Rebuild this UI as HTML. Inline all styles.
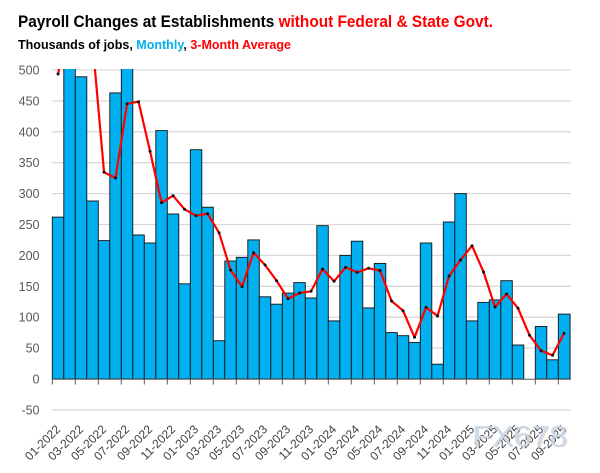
<!DOCTYPE html>
<html>
<head>
<meta charset="utf-8">
<style>
  html,body{margin:0;padding:0;background:#fff;}
  svg{display:block;}
  text{font-family:"Liberation Sans",Arial,sans-serif;}
</style>
</head>
<body>
<svg width="600" height="473" viewBox="0 0 600 473" xmlns="http://www.w3.org/2000/svg">
  <rect x="0" y="0" width="600" height="473" fill="#ffffff"/>
  <defs>
    <clipPath id="plot"><rect x="50" y="69" width="523" height="350"/></clipPath>
  </defs>

  <!-- Titles -->
  <text x="18" y="27" font-size="17" font-weight="bold" textLength="475" lengthAdjust="spacingAndGlyphs"><tspan fill="#000">Payroll Changes at Establishments </tspan><tspan fill="#ff0000">without Federal &amp; State Govt.</tspan></text>
  <text x="18" y="49" font-size="13" font-weight="bold" textLength="273" lengthAdjust="spacingAndGlyphs"><tspan fill="#000">Thousands of jobs, </tspan><tspan fill="#00b0f0">Monthly</tspan><tspan fill="#000">, </tspan><tspan fill="#ff0000">3-Month Average</tspan></text>

  <!-- Gridlines -->
  <g stroke="#d9d9d9" stroke-width="1.3">
    <line x1="52" y1="70" x2="571" y2="70"/>
    <line x1="52" y1="100.9" x2="571" y2="100.9"/>
    <line x1="52" y1="131.8" x2="571" y2="131.8"/>
    <line x1="52" y1="162.7" x2="571" y2="162.7"/>
    <line x1="52" y1="193.6" x2="571" y2="193.6"/>
    <line x1="52" y1="224.5" x2="571" y2="224.5"/>
    <line x1="52" y1="255.4" x2="571" y2="255.4"/>
    <line x1="52" y1="286.3" x2="571" y2="286.3"/>
    <line x1="52" y1="317.2" x2="571" y2="317.2"/>
    <line x1="52" y1="348.1" x2="571" y2="348.1"/>
    <line x1="52" y1="409.9" x2="571" y2="409.9"/>
  </g>

  <!-- Y labels -->
  <g font-size="12.5" fill="#595959" text-anchor="end">
    <text x="39.5" y="74.5">500</text>
    <text x="39.5" y="105.4">450</text>
    <text x="39.5" y="136.3">400</text>
    <text x="39.5" y="167.2">350</text>
    <text x="39.5" y="198.1">300</text>
    <text x="39.5" y="229">250</text>
    <text x="39.5" y="259.9">200</text>
    <text x="39.5" y="290.8">150</text>
    <text x="39.5" y="321.7">100</text>
    <text x="39.5" y="352.6">50</text>
    <text x="39.5" y="383.5">0</text>
    <text x="39.5" y="414.4">-50</text>
  </g>

  <!-- Bars -->
  <g clip-path="url(#plot)" fill="#00b0f0" stroke="#111" stroke-width="0.9">
    <rect x="52.3" y="217.1" width="11.5" height="161.9"/>
    <rect x="63.8" y="65" width="11.5" height="314"/>
    <rect x="75.3" y="76.8" width="11.5" height="302.2"/>
    <rect x="86.8" y="201.0" width="11.5" height="178.0"/>
    <rect x="98.3" y="240.6" width="11.5" height="138.4"/>
    <rect x="109.8" y="92.9" width="11.5" height="286.1"/>
    <rect x="121.3" y="65" width="11.5" height="314"/>
    <rect x="132.8" y="235.0" width="11.5" height="144.0"/>
    <rect x="144.3" y="243.0" width="11.5" height="136.0"/>
    <rect x="155.8" y="130.6" width="11.5" height="248.4"/>
    <rect x="167.3" y="214.0" width="11.5" height="165.0"/>
    <rect x="178.8" y="283.8" width="11.5" height="95.2"/>
    <rect x="190.3" y="149.7" width="11.5" height="229.3"/>
    <rect x="201.8" y="207.2" width="11.5" height="171.8"/>
    <rect x="213.3" y="340.7" width="11.5" height="38.3"/>
    <rect x="224.8" y="261.0" width="11.5" height="118.0"/>
    <rect x="236.3" y="257.3" width="11.5" height="121.7"/>
    <rect x="247.8" y="239.9" width="11.5" height="139.1"/>
    <rect x="259.3" y="296.8" width="11.5" height="82.2"/>
    <rect x="270.8" y="304.2" width="11.5" height="74.8"/>
    <rect x="282.3" y="293.1" width="11.5" height="85.9"/>
    <rect x="293.8" y="282.6" width="11.5" height="96.4"/>
    <rect x="305.3" y="298.0" width="11.5" height="81.0"/>
    <rect x="316.8" y="225.7" width="11.5" height="153.3"/>
    <rect x="328.3" y="320.9" width="11.5" height="58.1"/>
    <rect x="339.8" y="255.4" width="11.5" height="123.6"/>
    <rect x="351.3" y="241.2" width="11.5" height="137.8"/>
    <rect x="362.8" y="307.9" width="11.5" height="71.1"/>
    <rect x="374.3" y="263.4" width="11.5" height="115.6"/>
    <rect x="385.8" y="332.6" width="11.5" height="46.4"/>
    <rect x="397.3" y="335.7" width="11.5" height="43.3"/>
    <rect x="408.8" y="342.5" width="11.5" height="36.5"/>
    <rect x="420.3" y="243.0" width="11.5" height="136.0"/>
    <rect x="431.8" y="364.2" width="11.5" height="14.8"/>
    <rect x="443.3" y="222.0" width="11.5" height="157.0"/>
    <rect x="454.8" y="193.6" width="11.5" height="185.4"/>
    <rect x="466.3" y="320.9" width="11.5" height="58.1"/>
    <rect x="477.8" y="302.4" width="11.5" height="76.6"/>
    <rect x="489.3" y="299.9" width="11.5" height="79.1"/>
    <rect x="500.8" y="280.7" width="11.5" height="98.3"/>
    <rect x="512.3" y="345.0" width="11.5" height="34.0"/>
    <rect x="535.3" y="326.5" width="11.5" height="52.5"/>
    <rect x="546.8" y="359.8" width="11.5" height="19.2"/>
    <rect x="558.3" y="314.1" width="11.8" height="64.9"/>
  </g>

  <!-- Axis line and ticks -->
  <line x1="52" y1="379.3" x2="571" y2="379.3" stroke="#595959" stroke-width="1"/>
  <g stroke="#595959" stroke-width="1">
    <line x1="52.3" y1="379" x2="52.3" y2="384.5"/>
    <line x1="75.3" y1="379" x2="75.3" y2="384.5"/>
    <line x1="98.3" y1="379" x2="98.3" y2="384.5"/>
    <line x1="121.3" y1="379" x2="121.3" y2="384.5"/>
    <line x1="144.3" y1="379" x2="144.3" y2="384.5"/>
    <line x1="167.3" y1="379" x2="167.3" y2="384.5"/>
    <line x1="190.3" y1="379" x2="190.3" y2="384.5"/>
    <line x1="213.3" y1="379" x2="213.3" y2="384.5"/>
    <line x1="236.3" y1="379" x2="236.3" y2="384.5"/>
    <line x1="259.3" y1="379" x2="259.3" y2="384.5"/>
    <line x1="282.3" y1="379" x2="282.3" y2="384.5"/>
    <line x1="305.3" y1="379" x2="305.3" y2="384.5"/>
    <line x1="328.3" y1="379" x2="328.3" y2="384.5"/>
    <line x1="351.3" y1="379" x2="351.3" y2="384.5"/>
    <line x1="374.3" y1="379" x2="374.3" y2="384.5"/>
    <line x1="397.3" y1="379" x2="397.3" y2="384.5"/>
    <line x1="420.3" y1="379" x2="420.3" y2="384.5"/>
    <line x1="443.3" y1="379" x2="443.3" y2="384.5"/>
    <line x1="466.3" y1="379" x2="466.3" y2="384.5"/>
    <line x1="489.3" y1="379" x2="489.3" y2="384.5"/>
    <line x1="512.3" y1="379" x2="512.3" y2="384.5"/>
    <line x1="535.3" y1="379" x2="535.3" y2="384.5"/>
    <line x1="558.3" y1="379" x2="558.3" y2="384.5"/>
  </g>

  <!-- 3-month average line -->
  <g clip-path="url(#plot)">
    <polyline fill="none" stroke="#ff0000" stroke-width="2.2" stroke-linejoin="round"
      points="58.05,74 69.55,14.4 81.05,47.8 92.55,42.2 104.05,172.3 115.55,178 127.05,103.7 138.55,101.7 150.05,151.3 161.55,202.7 173.05,195.7 184.55,209.3 196.05,215.7 207.55,213.7 219.05,232.7 230.55,270 242.05,286.7 253.55,252.7 265.05,265 276.55,280.7 288.05,298.7 299.55,293 311.05,291.3 322.55,269 334.05,281.3 345.55,267.3 357.05,272.3 368.55,268.3 380.05,270.5 391.55,301 403.05,310.7 414.55,337.3 426.05,307.3 437.55,316 449.05,276 460.55,260 472.05,245.7 483.55,272 495.05,307 506.55,294 518.05,308.3 529.55,335.3 541.05,350.7 552.55,355.3 564.05,333.3"/>
    <g fill="#111">
      <circle cx="58.05" cy="74" r="1.5"/>
      <circle cx="104.05" cy="172.3" r="1.5"/>
      <circle cx="115.55" cy="178" r="1.5"/>
      <circle cx="127.05" cy="103.7" r="1.5"/>
      <circle cx="138.55" cy="101.7" r="1.5"/>
      <circle cx="150.05" cy="151.3" r="1.5"/>
      <circle cx="161.55" cy="202.7" r="1.5"/>
      <circle cx="173.05" cy="195.7" r="1.5"/>
      <circle cx="184.55" cy="209.3" r="1.5"/>
      <circle cx="196.05" cy="215.7" r="1.5"/>
      <circle cx="207.55" cy="213.7" r="1.5"/>
      <circle cx="219.05" cy="232.7" r="1.5"/>
      <circle cx="230.55" cy="270" r="1.5"/>
      <circle cx="242.05" cy="286.7" r="1.5"/>
      <circle cx="253.55" cy="252.7" r="1.5"/>
      <circle cx="265.05" cy="265" r="1.5"/>
      <circle cx="276.55" cy="280.7" r="1.5"/>
      <circle cx="288.05" cy="298.7" r="1.5"/>
      <circle cx="299.55" cy="293" r="1.5"/>
      <circle cx="311.05" cy="291.3" r="1.5"/>
      <circle cx="322.55" cy="269" r="1.5"/>
      <circle cx="334.05" cy="281.3" r="1.5"/>
      <circle cx="345.55" cy="267.3" r="1.5"/>
      <circle cx="357.05" cy="272.3" r="1.5"/>
      <circle cx="368.55" cy="268.3" r="1.5"/>
      <circle cx="380.05" cy="270.5" r="1.5"/>
      <circle cx="391.55" cy="301" r="1.5"/>
      <circle cx="403.05" cy="310.7" r="1.5"/>
      <circle cx="414.55" cy="337.3" r="1.5"/>
      <circle cx="426.05" cy="307.3" r="1.5"/>
      <circle cx="437.55" cy="316" r="1.5"/>
      <circle cx="449.05" cy="276" r="1.5"/>
      <circle cx="460.55" cy="260" r="1.5"/>
      <circle cx="472.05" cy="245.7" r="1.5"/>
      <circle cx="483.55" cy="272" r="1.5"/>
      <circle cx="495.05" cy="307" r="1.5"/>
      <circle cx="506.55" cy="294" r="1.5"/>
      <circle cx="518.05" cy="308.3" r="1.5"/>
      <circle cx="529.55" cy="335.3" r="1.5"/>
      <circle cx="541.05" cy="350.7" r="1.5"/>
      <circle cx="552.55" cy="355.3" r="1.5"/>
      <circle cx="564.05" cy="333.3" r="1.5"/>
    </g>
  </g>

  <!-- X labels -->
  <g font-size="12" fill="#404040" text-anchor="end">
    <text transform="translate(61.05,430) rotate(-45)">01-2022</text>
    <text transform="translate(84.05,430) rotate(-45)">03-2022</text>
    <text transform="translate(107.05,430) rotate(-45)">05-2022</text>
    <text transform="translate(130.05,430) rotate(-45)">07-2022</text>
    <text transform="translate(153.05,430) rotate(-45)">09-2022</text>
    <text transform="translate(176.05,430) rotate(-45)">11-2022</text>
    <text transform="translate(199.05,430) rotate(-45)">01-2023</text>
    <text transform="translate(222.05,430) rotate(-45)">03-2023</text>
    <text transform="translate(245.05,430) rotate(-45)">05-2023</text>
    <text transform="translate(268.05,430) rotate(-45)">07-2023</text>
    <text transform="translate(291.05,430) rotate(-45)">09-2023</text>
    <text transform="translate(314.05,430) rotate(-45)">11-2023</text>
    <text transform="translate(337.05,430) rotate(-45)">01-2024</text>
    <text transform="translate(360.05,430) rotate(-45)">03-2024</text>
    <text transform="translate(383.05,430) rotate(-45)">05-2024</text>
    <text transform="translate(406.05,430) rotate(-45)">07-2024</text>
    <text transform="translate(429.05,430) rotate(-45)">09-2024</text>
    <text transform="translate(452.05,430) rotate(-45)">11-2024</text>
    <text transform="translate(475.05,430) rotate(-45)">01-2025</text>
    <text transform="translate(498.05,430) rotate(-45)">03-2025</text>
    <text transform="translate(521.05,430) rotate(-45)">05-2025</text>
    <text transform="translate(544.05,430) rotate(-45)">07-2025</text>
    <text transform="translate(567.05,430) rotate(-45)">09-2025</text>
  </g>

  <!-- Watermark -->
  <text x="473.5" y="447" font-size="30" fill="#c9a88a" opacity="0.45" textLength="95" lengthAdjust="spacingAndGlyphs">FX678</text>
  <text x="472" y="446.5" font-size="30" fill="#c6dbf2" opacity="0.85" textLength="95" lengthAdjust="spacingAndGlyphs">FX678</text>
</svg>
</body>
</html>
